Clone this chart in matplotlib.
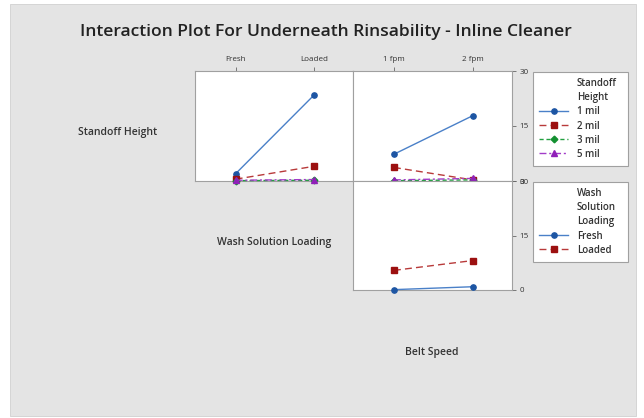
import matplotlib
matplotlib.use("Agg")
import matplotlib.pyplot as plt
from matplotlib.patches import Rectangle
from matplotlib.lines import Line2D

plt.rcParams['font.family'] = ['Open Sans', 'DejaVu Sans']

# ---- data ----
wash_levels = ["Fresh", "Loaded"]
speed_levels = ["1 fpm", "2 fpm"]
standoff_levels = ["1 mil", "2 mil", "3 mil", "5 mil"]

# Standoff Height x Wash Solution Loading
sh_by_wash = {
    "1 mil": [2.0, 23.4],
    "2 mil": [0.5, 4.0],
    "3 mil": [0.1, 0.2],
    "5 mil": [0.2, 0.4],
}
# Standoff Height x Belt Speed
sh_by_speed = {
    "1 mil": [7.3, 17.8],
    "2 mil": [3.7, 0.3],
    "3 mil": [0.1, 0.3],
    "5 mil": [0.3, 0.7],
}
# Wash Solution Loading x Belt Speed
wash_by_speed = {
    "Fresh": [0.1, 0.9],
    "Loaded": [5.4, 8.1],
}
y_ticks = [0, 15, 30]

# ---- styles ----
styles = {
    "1 mil": dict(color="#4a80c8", mfc="#1d55a3", mec="#1d55a3", marker="o", ls="-", dashes=None),
    "2 mil": dict(color="#b83a3a", mfc="#9c1010", mec="#9c1010", marker="s", ls="--", dashes=(5, 3)),
    "3 mil": dict(color="#22a040", mfc="#139030", mec="#139030", marker="D", ls="--", dashes=(3, 2)),
    "5 mil": dict(color="#a23cc8", mfc="#9020b8", mec="#9020b8", marker="^", ls="-.", dashes=(5, 2, 1.5, 2)),
}
wash_styles = {"Fresh": styles["1 mil"], "Loaded": styles["2 mil"]}
MS = {"o": 3.8, "s": 3.8, "D": 3.4, "^": 4.0}

W, H = 644, 418
fig = plt.figure(figsize=(W / 100, H / 100), dpi=100)
fig.patch.set_facecolor("white")
fig.patches.append(Rectangle((10 / W, 0.004), 626 / W, 1 - 4 / H - 0.004,
                             transform=fig.transFigure, facecolor="#e4e4e4",
                             edgecolor="#d0d0d0", lw=0.6, zorder=-10))

def px(x0, y0, x1, y1):
    return [x0 / W, 1 - y1 / H, (x1 - x0) / W, (y1 - y0) / H]

ax_tl = fig.add_axes(px(195, 71, 353, 181))
ax_tr = fig.add_axes(px(353, 71, 512, 181))
ax_br = fig.add_axes(px(353, 181, 512, 290))

spine_c = "#a0a0a0"
for ax in (ax_tl, ax_tr, ax_br):
    ax.set_facecolor("white")
    ax.set_xlim(-0.52, 1.5)
    ax.set_ylim(0, 30)
    for s in ax.spines.values():
        s.set_color(spine_c)
        s.set_linewidth(0.8)
    ax.tick_params(colors="#666666", labelcolor="#333333", labelsize=5.8,
                   length=3, width=0.6, pad=2.5)

def draw(ax, data, stl):
    x = [0, 1]
    for name, vals in data.items():
        st = stl[name]
        ln, = ax.plot(x, vals, color=st["color"], lw=1.0, ls=st["ls"],
                      marker=st["marker"], ms=MS[st["marker"]],
                      mfc=st["mfc"], mec=st["mec"], clip_on=False, zorder=3)
        if st["dashes"]:
            ln.set_dashes(st["dashes"])

draw(ax_tl, sh_by_wash, styles)
draw(ax_tr, sh_by_speed, styles)
draw(ax_br, wash_by_speed, wash_styles)

# top ticks
ax_tl.xaxis.tick_top()
ax_tl.set_xticks([0, 1], wash_levels)
ax_tl.set_yticks([])
ax_tr.xaxis.tick_top()
ax_tr.set_xticks([0, 1], speed_levels)
for ax in (ax_tr, ax_br):
    ax.yaxis.tick_right()
    ax.set_yticks(y_ticks, [str(t) for t in y_ticks])
ax_br.set_xticks([])

# labels
lab_kw = dict(fontsize=7.5, weight="semibold", color="#333333", va="center")
fig.text(78 / W, 1 - 133 / H, "Standoff Height", ha="left", **lab_kw)
fig.text(274 / W, 1 - 242 / H, "Wash Solution Loading", ha="center", **lab_kw)
fig.text(432 / W, 1 - 352 / H, "Belt Speed", ha="center", **lab_kw)
fig.text(326 / W, 1 - 32 / H, "Interaction Plot For Underneath Rinsability - Inline Cleaner",
         fontsize=12.6, weight="semibold", color="#222222", ha="center", va="center")

# legends
def blank():
    return Line2D([], [], ls="none")

def handle(st):
    h = Line2D([], [], color=st["color"], lw=1.0, ls=st["ls"], marker=st["marker"],
               ms=MS[st["marker"]], mfc=st["mfc"], mec=st["mec"])
    if st["dashes"]:
        h.set_dashes(st["dashes"])
    return h

leg_kw = dict(loc="upper left", mode="expand", borderaxespad=0, fontsize=7,
              frameon=True, fancybox=False, framealpha=1, facecolor="white",
              handlelength=3.0, handletextpad=0.85, labelspacing=0.32, borderpad=0.65)

h1 = [blank(), blank()] + [handle(styles[n]) for n in standoff_levels]
l1 = ["Standoff", "Height"] + standoff_levels
leg1 = fig.legend(h1, l1, bbox_to_anchor=(533 / W, 1 - 72 / H, 95 / W, 0.0001), **leg_kw)

h2 = [blank(), blank(), blank()] + [handle(wash_styles[n]) for n in wash_levels]
l2 = ["Wash", "Solution", "Loading"] + wash_levels
leg2 = fig.legend(h2, l2, bbox_to_anchor=(533 / W, 1 - 182 / H, 95 / W, 0.0001), **leg_kw)

for leg in (leg1, leg2):
    leg.get_frame().set_edgecolor(spine_c)
    leg.get_frame().set_linewidth(0.8)
    for t in leg.get_texts():
        t.set_color("#333333")
        t.set_weight("semibold")

fig.savefig("out.png", dpi=100)
